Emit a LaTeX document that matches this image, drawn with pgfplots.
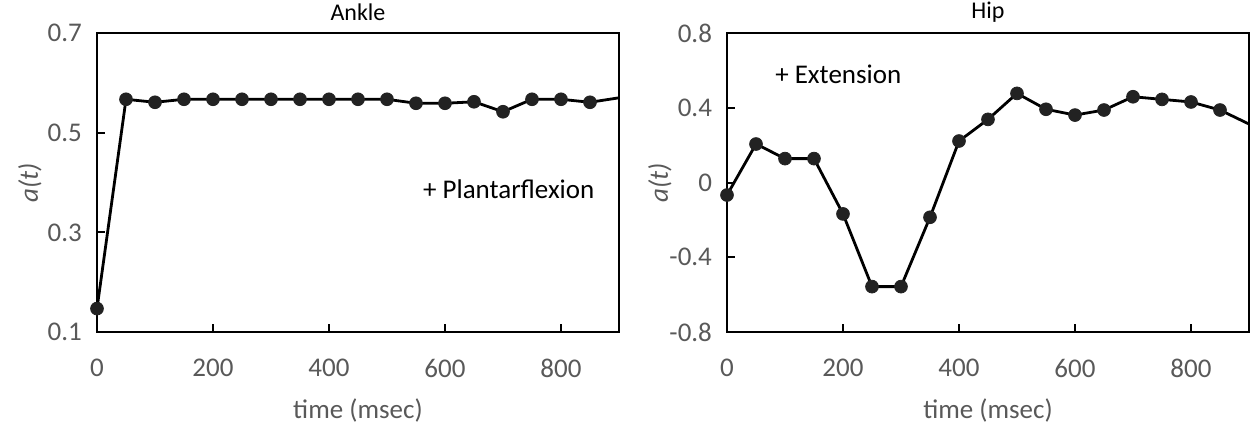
\documentclass[border=0pt]{standalone}
\usepackage{fontspec}
\setmainfont{Carlito}
\usepackage{pgfplots}
\usepackage{pgfplotstable}
\pgfplotsset{compat=1.18}
\definecolor{tickgray}{RGB}{89,89,89}
\definecolor{dotcol}{RGB}{34,34,34}

% time (msec), a(t)
\pgfplotstableread{
t a
0 0.147
50 0.567
100 0.561
150 0.567
200 0.567
250 0.567
300 0.567
350 0.567
400 0.567
450 0.567
500 0.567
550 0.559
600 0.559
650 0.562
700 0.542
750 0.567
800 0.567
850 0.561
900 0.570
}\ankle

\pgfplotstableread{
t a
0 -0.067
50 0.206
100 0.128
150 0.128
200 -0.168
250 -0.557
300 -0.557
350 -0.186
400 0.222
450 0.338
500 0.477
550 0.392
600 0.361
650 0.388
700 0.459
750 0.445
800 0.431
850 0.388
900 0.313
}\hip

\pgfplotsset{
  panel/.style={
    scale only axis,
    width=261pt, height=149.5pt,
    xmin=0, xmax=900,
    xtick={0,200,400,600,800},
    axis line style={line width=1pt},
    tick style={line width=1pt, black},
    major tick length=4pt,
    tick align=inside,
    xtick pos=bottom, ytick pos=left,
    /pgf/number format/assume math mode=true,
    ticklabel style={font=\fontsize{13.5}{15}\selectfont, text=tickgray},
    xticklabel style={yshift=-10pt},
    yticklabel style={xshift=-4pt},
    xlabel={time (msec)},
    ylabel={\textit{a}(\textit{t})},
    xlabel style={font=\fontsize{13.5}{15}\selectfont, text=tickgray,
      at={(axis description cs:0.5,0)}, anchor=center, yshift=-39pt},
    ylabel style={font=\fontsize{13.5}{15}\selectfont\itshape, text=tickgray,
      at={(axis description cs:-0.1284,0.5)}, anchor=center},
    title style={font=\fontsize{12}{14}\selectfont,
      at={(axis description cs:0.5,1)}, anchor=center, yshift=4.5pt},
    clip=true,
  },
  dataline/.style={black, line width=1.4pt, no marks},
  datadots/.style={only marks, mark=*, mark size=3.2pt, mark options={fill=dotcol, draw=dotcol},
    restrict x to domain=0:850},
}

\begin{document}
\begin{tikzpicture}
\path[use as bounding box] (-48.5pt,-46.5pt) rectangle (577.5pt,166pt);
\begin{axis}[panel, at={(0,0)}, anchor=south west,
  title={Ankle},
  ymin=0.1, ymax=0.7,
  ytick={0.1,0.3,0.5,0.7},
  yticklabel style={/pgf/number format/.cd, fixed, fixed zerofill, precision=1},
]
\addplot[dataline] table[x=t, y=a] {\ankle};
\addplot[datadots] table[x=t, y=a] {\ankle};
\node[anchor=west, font=\fontsize{13.5}{15}\selectfont] at (axis cs:550,0.387) {+ Plantarflexion};
\end{axis}
\begin{axis}[panel, at={(315pt,0)}, anchor=south west,
  title={Hip},
  ymin=-0.8, ymax=0.8,
  ytick={-0.8,-0.4,0,0.4,0.8},
  yticklabels={-0.8,-0.4,0,0.4,0.8},
]
\addplot[dataline] table[x=t, y=a] {\hip};
\addplot[datadots] table[x=t, y=a] {\hip};
\node[anchor=west, font=\fontsize{13.5}{15}\selectfont] at (axis cs:71,0.581) {+ Extension};
\end{axis}
\end{tikzpicture}
\end{document}
